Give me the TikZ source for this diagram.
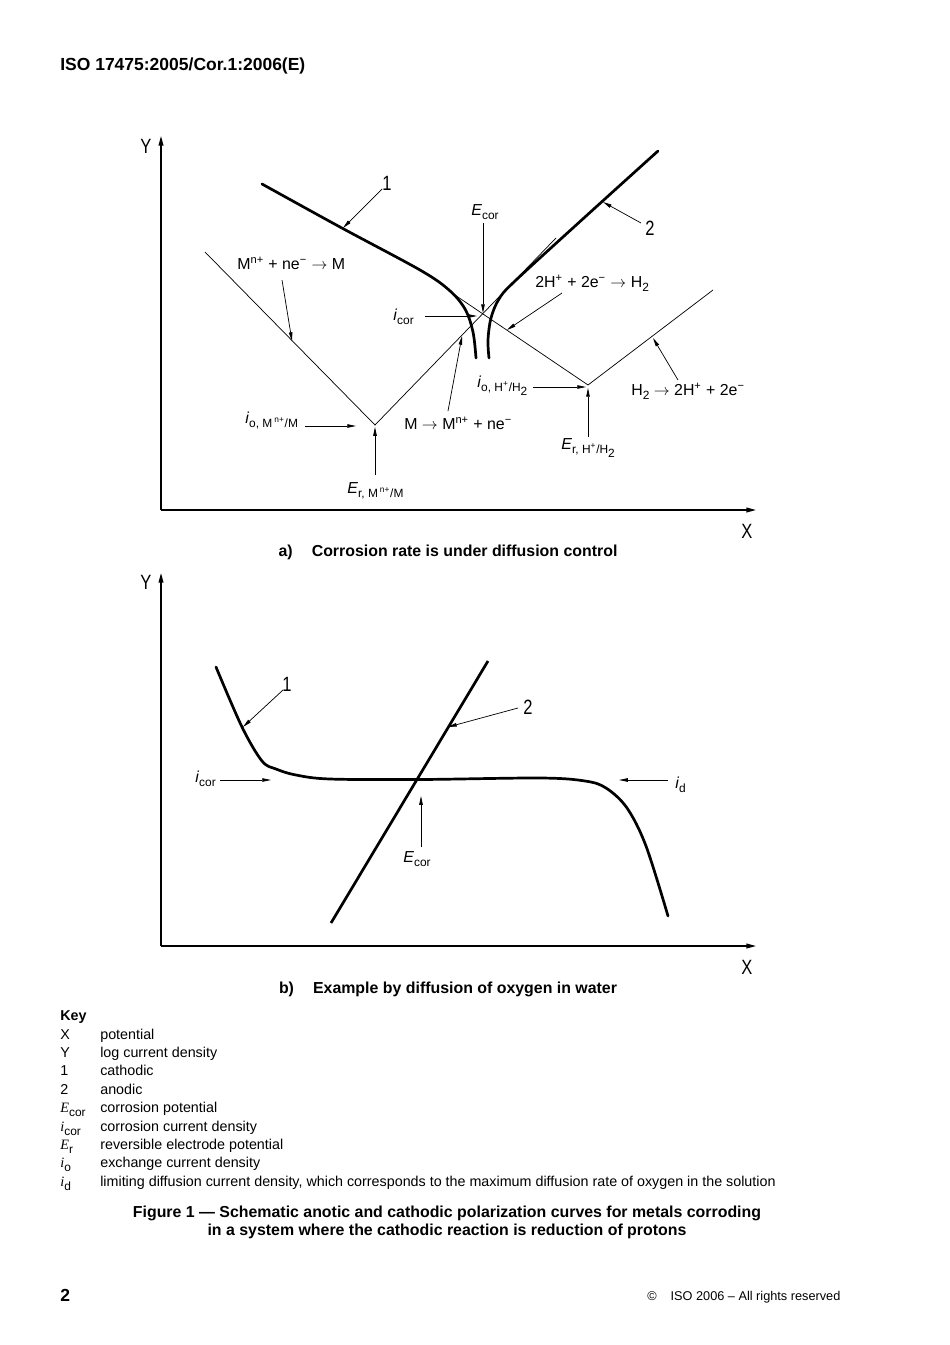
\documentclass[tikz,border=0pt]{standalone}
\usepackage{fontspec}
\setmainfont{Liberation Sans}
\newfontfamily\keyserif{Liberation Serif}
\usepackage{tikz}
\usetikzlibrary{arrows.meta}
\newcommand{\lowtxt}[1]{\raisebox{-2.8pt}{\fontsize{7.5}{7.5}\selectfont #1}}
\newcommand{\narrow}[1]{\scalebox{0.8}[1]{#1}}

\begin{document}
\begin{tikzpicture}[x=0.22105mm, y=-0.22105mm,
    axis/.style={line width=0.8pt, -{Triangle[length=6pt,width=3pt]}},
    tafel/.style={line width=0.45pt},
    curve/.style={line width=1.7pt, line join=round, line cap=round},
    lead/.style={line width=0.45pt, -{Triangle[length=5.5pt,width=2.2pt]}},
    lbl/.style={inner sep=0pt, anchor=base west, font=\fontsize{10}{12}\selectfont},
    keytxt/.style={inner sep=0pt, anchor=base west, font=\fontsize{9}{11}\selectfont},
    num/.style={inner sep=0pt, font=\fontsize{13}{13}\selectfont},
    figcap/.style={inner sep=0pt, anchor=base, font=\bfseries\fontsize{10}{12}\selectfont}]
                    \fill[white] (0,0) rectangle (950,1345);
                    \useasboundingbox (0,0) rectangle (950,1345);
                    % Page header
                    \node[inner sep=0pt, anchor=base west, font=\bfseries\fontsize{11}{13}\selectfont] (head) at (60,70) {ISO 17475:2005/Cor.1:2006(E)};

                    % a) Axes
                    \coordinate (aO) at (161,510);
                    \coordinate (aY) at (161,136);
                    \coordinate (aX) at (756,510);
                    \draw[axis] (aO) -- (aY);
                    \draw[axis] (aO) -- (aX);
                    \node[num] (aYl) at (146,146) {\narrow{Y}};
                    \node[num] (aXl) at (747,531) {\narrow{X}};
                    % a) Tafel lines
                    \coordinate (mL) at (205,252);
                    \coordinate (mV) at (375,425);
                    \coordinate (mR) at (556,238);
                    \coordinate (hL) at (449,291);
                    \coordinate (hV) at (588,385);
                    \coordinate (hR) at (713,290);
                    \draw[tafel] (mL) -- (mV) -- (mR);
                    \draw[tafel] (hL) -- (hV) -- (hR);
                    % a) Polarization curves
                    \draw[curve] plot[smooth, tension=0.55] coordinates {(262,184) (340,227) (420,270) (449,290) (465,309) (473,332) (476,358)};
                    \draw[curve] plot[smooth, tension=0.55] coordinates {(658,151) (585,217) (515,281) (499,299) (491,318) (488,340) (489,358)};
                    % a) Labels
                    \node[num] (a1) at (387,183) {\narrow{1}};
                    \node[num] (a2) at (650,228) {\narrow{2}};
                    \node[lbl] (aEcor) at (471,215) {\textit{E}\lowtxt{cor}};
                    \node[lbl] (aIcor) at (393,320) {\textit{i}\lowtxt{cor}};
                    \node[lbl] (hRed) at (535,287) {2H\textsuperscript{+} + 2e\textsuperscript{−} $\rightarrow$ H\lowtxt{2}};
                    \node[lbl] (mRed) at (237,269) {M\textsuperscript{n+} + ne\textsuperscript{−} $\rightarrow$ M};
                    \node[lbl] (aIoM) at (245,423) {\textit{i}\lowtxt{o, M\,\textsuperscript{n+}/M}};
                    \node[lbl] (aErM) at (347,493) {\textit{E}\lowtxt{r, M\,\textsuperscript{n+}/M}};
                    \node[lbl] (mOx) at (404,429) {M $\rightarrow$ M\textsuperscript{n+} + ne\textsuperscript{−}};
                    \node[lbl] (aIoH) at (477,387) {\textit{i}\lowtxt{o, H\textsuperscript{+}/H\lowtxt{2}}};
                    \node[lbl] (aErH) at (561,449) {\textit{E}\lowtxt{r, H\textsuperscript{+}/H\lowtxt{2}}};
                    \node[lbl] (hOx) at (631,395) {H\lowtxt{2} $\rightarrow$ 2H\textsuperscript{+} + 2e\textsuperscript{−}};
                    % a) Leaders
                    \coordinate (a1s) at (382,189);  \coordinate (a1t) at (343,228);
                    \coordinate (a2s) at (641,223);  \coordinate (a2t) at (603,202);
                    \coordinate (aEs) at (483,223);  \coordinate (aEt) at (483,313);
                    \coordinate (aIs) at (425,316);  \coordinate (aIt) at (477,316);
                    \coordinate (hRs) at (562,293);  \coordinate (hRt) at (507,330);
                    \coordinate (mRs) at (282,280);  \coordinate (mRt) at (292,341);
                    \coordinate (aIMs) at (305,426); \coordinate (aIMt) at (356,426);
                    \coordinate (aEMs) at (375,475); \coordinate (aEMt) at (375,427);
                    \coordinate (mOs) at (448,411);  \coordinate (mOt) at (462,336);
                    \coordinate (aIHs) at (533,387); \coordinate (aIHt) at (586,387);
                    \coordinate (aEHs) at (588,437); \coordinate (aEHt) at (588,388);
                    \coordinate (hOs) at (678,380);  \coordinate (hOt) at (653,338);
                    \draw[lead] (a1s) -- (a1t);
                    \draw[lead] (a2s) -- (a2t);
                    \draw[lead] (aEs) -- (aEt);
                    \draw[lead] (aIs) -- (aIt);
                    \draw[lead] (hRs) -- (hRt);
                    \draw[lead] (mRs) -- (mRt);
                    \draw[lead] (aIMs) -- (aIMt);
                    \draw[lead] (aEMs) -- (aEMt);
                    \draw[lead] (mOs) -- (mOt);
                    \draw[lead] (aIHs) -- (aIHt);
                    \draw[lead] (aEHs) -- (aEHt);
                    \draw[lead] (hOs) -- (hOt);
                    \node[figcap] (capA) at (448,556) {a)\hspace{1.2em}Corrosion rate is under diffusion control};

                    % b) Axes
                    \coordinate (bO) at (161,946);
                    \coordinate (bY) at (161,573);
                    \coordinate (bX) at (756,946);
                    \draw[axis] (bO) -- (bY);
                    \draw[axis] (bO) -- (bX);
                    \node[num] (bYl) at (146,582) {\narrow{Y}};
                    \node[num] (bXl) at (747,967) {\narrow{X}};
                    % b) Curves
                    \draw[curve] plot[smooth, tension=0.55] coordinates {(216,667) (242,727) (262,761) (276,769) (296,775) (330,779) (420,779.5) (540,778) (585,781) (606,788) (627,808) (646,846) (668,916)};
                    \coordinate (bAs) at (331,923);
                    \coordinate (bAe) at (488,661);
                    \draw[curve, line cap=butt] (bAs) -- (bAe);
                    % b) Labels
                    \node[num] (b1) at (287,684) {\narrow{1}};
                    \node[num] (b2) at (528,707) {\narrow{2}};
                    \node[lbl] (bIcor) at (195,782) {\textit{i}\lowtxt{cor}};
                    \node[lbl] (bEcor) at (403,862) {\textit{E}\lowtxt{cor}};
                    \node[lbl] (bId) at (675,788) {\textit{i}\lowtxt{d}};
                    % b) Leaders
                    \coordinate (b1s) at (283,690);  \coordinate (b1t) at (243,727);
                    \coordinate (b2s) at (518,708);  \coordinate (b2t) at (448,727);
                    \coordinate (bIs) at (220,780);  \coordinate (bIt) at (271,780);
                    \coordinate (bEs) at (421,847);  \coordinate (bEt) at (421,796);
                    \coordinate (bDs) at (668,780);  \coordinate (bDt) at (619,780);
                    \draw[lead] (b1s) -- (b1t);
                    \draw[lead] (b2s) -- (b2t);
                    \draw[lead] (bIs) -- (bIt);
                    \draw[lead] (bEs) -- (bEt);
                    \draw[lead] (bDs) -- (bDt);
                    \node[figcap] (capB) at (448,993) {b)\hspace{1.2em}Example by diffusion of oxygen in water};

                    % Key
                    \node[keytxt, font=\bfseries\fontsize{9}{11}\selectfont] (key) at (60,1020) {Key};
                    \node[keytxt] (k1) at (60,1039) {X};
                    \node[keytxt] (k2) at (60,1057) {Y};
                    \node[keytxt] (k3) at (60,1075) {1};
                    \node[keytxt] (k4) at (60,1094) {2};
                    \node[keytxt] (k5) at (60,1112) {{\keyserif\itshape E}\lowtxt{cor}};
                    \node[keytxt] (k6) at (60,1131) {{\keyserif\itshape i}\lowtxt{cor}};
                    \node[keytxt] (k7) at (60,1149) {{\keyserif\itshape E}\lowtxt{r}};
                    \node[keytxt] (k8) at (60,1167) {{\keyserif\itshape i}\lowtxt{o}};
                    \node[keytxt] (k9) at (60,1186) {{\keyserif\itshape i}\lowtxt{d}};
                    \node[keytxt] (t1) at (100,1039) {potential};
                    \node[keytxt] (t2) at (100,1057) {log current density};
                    \node[keytxt] (t3) at (100,1075) {cathodic};
                    \node[keytxt] (t4) at (100,1094) {anodic};
                    \node[keytxt] (t5) at (100,1112) {corrosion potential};
                    \node[keytxt] (t6) at (100,1131) {corrosion current density};
                    \node[keytxt] (t7) at (100,1149) {reversible electrode potential};
                    \node[keytxt] (t8) at (100,1167) {exchange current density};
                    \node[keytxt] (t9) at (100,1186) {limiting diffusion current density, which corresponds to the maximum diffusion rate of oxygen in the solution};

                    % Figure title
                    \node[figcap] (fig1) at (447,1217) {Figure 1 — Schematic anotic and cathodic polarization curves for metals corroding};
                    \node[figcap] (fig2) at (447,1235) {in a system where the cathodic reaction is reduction of protons};

                    % Footer
                    \node[inner sep=0pt, anchor=base west, font=\bfseries\fontsize{11}{13}\selectfont] (page) at (60,1301) {2};
                    \node[inner sep=0pt, anchor=base west, font=\fontsize{8}{10}\selectfont] (copy) at (647,1300) {©\hspace{1.1em}ISO 2006 – All rights reserved};
                \end{tikzpicture}
\end{document}
